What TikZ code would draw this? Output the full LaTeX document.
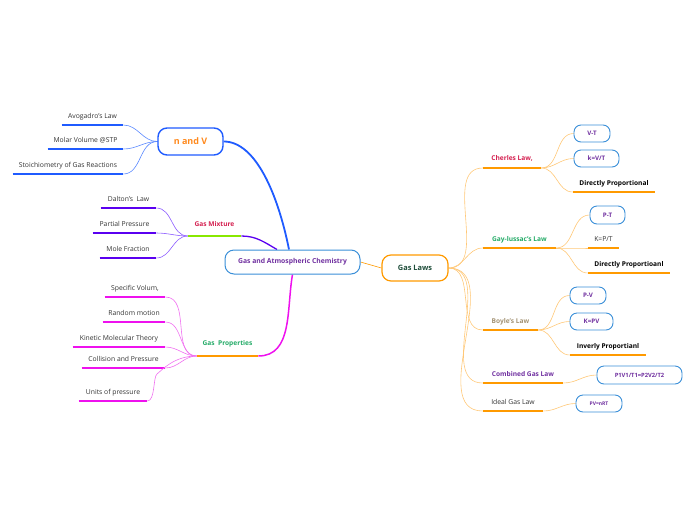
\documentclass[tikz,border=0pt]{standalone}
\usepackage{fontspec}
\setmainfont{Open Sans}
\usetikzlibrary{backgrounds}
\definecolor{nvblue}{HTML}{1F5BFF}
\definecolor{nvlight}{HTML}{5C8AFF}
\definecolor{nvorange}{HTML}{FF8A1E}
\definecolor{mixpurple}{HTML}{5A00F0}
\definecolor{mixlight}{HTML}{8C5CFF}
\definecolor{limegreen}{HTML}{88E800}
\definecolor{magen}{HTML}{EE11EE}
\definecolor{maglight}{HTML}{F070F0}
\definecolor{lawor}{HTML}{FF9A00}
\definecolor{orlight}{HTML}{FFC878}
\definecolor{boxblue}{HTML}{3A8FD8}
\definecolor{boxtxt}{HTML}{7030A0}
\definecolor{glgreen}{HTML}{1E4D3A}
\definecolor{crim}{HTML}{D42050}
\definecolor{leafgreen}{HTML}{22AA66}
\definecolor{tanbrown}{HTML}{A39273}
\definecolor{txtgray}{HTML}{333333}
\tikzset{every picture/.style={>=stealth, semithick}}
\tikzset{topic/.style={draw, rounded corners=9pt, fill=white, inner sep=0pt,
    font=\bfseries\fontsize{6.8}{8}\selectfont}}
\tikzset{formula/.style={draw=boxblue, line width=0.9pt, rounded corners=7pt,
    fill=white, text=boxtxt, inner sep=0pt, minimum height=17pt,
    font=\bfseries\fontsize{6.2}{7}\selectfont}}
\tikzset{leaf/.style={anchor=south, inner xsep=0pt, inner ysep=5pt,
    text depth=1.5pt, text=txtgray, font=\fontsize{6.8}{8}\selectfont}}
\tikzset{subtopic/.style={leaf, font=\bfseries\fontsize{6.6}{8}\selectfont}}
\tikzset{underline/.style={line width=2pt}}
\tikzset{twig/.style={line width=0.6pt}}

\begin{document}
\begin{tikzpicture}[x=1pt, y=1pt]
	\useasboundingbox (0,0) rectangle (696,-520);
	% main topics
	\node[topic, draw=boxblue, line width=1pt, text=boxtxt, minimum width=135pt,
	minimum height=24pt] (cen) at (292.5,-262) {Gas and Atmospheric Chemistry};
	\node[topic, draw=lawor, line width=1.2pt, text=glgreen, minimum width=66pt,
	minimum height=26pt, font=\bfseries\fontsize{7.4}{9}\selectfont] (gl) at (415,-268)
	{Gas Laws};
	\node[topic, draw=nvblue, line width=1.4pt, text=nvorange, minimum width=65pt,
	minimum height=27pt, font=\bfseries\fontsize{9}{11}\selectfont] (nv) at
	(190.5,-141.5) {n and V};
	% n and V
	\node[leaf, minimum width=61pt] (avo) at (92.5,-125) {Avogadro's Law};
	\node[leaf, minimum width=75pt] (mol) at (85.5,-149) {Molar Volume @STP};
	\node[leaf, minimum width=110pt] (sto) at (68,-174) {Stoichiometry of Gas Reactions};
	% mixture
	\node[subtopic, text=crim, minimum width=53pt, inner ysep=8pt] (mix) at
	(214.5,-236) {Gas Mixture};
	\node[leaf, minimum width=55pt] (dal) at (128.5,-208) {Dalton's~ Law};
	\node[leaf, minimum width=63pt] (pp) at (124.5,-233) {Partial Pressure};
	\node[leaf, minimum width=56pt] (mf) at (128,-258) {Mole Fraction};
	% properties
	\node[subtopic, text=leafgreen, minimum width=61pt, inner ysep=9pt] (gp) at
	(227.5,-356) {Gas~ Properties};
	\node[leaf, minimum width=60pt] (sv) at (135,-297) {Specific Volum,};
	\node[leaf, minimum width=62pt] (rm) at (134,-322) {Random motion};
	\node[leaf, minimum width=92pt] (kmt) at (119,-347) {Kinetic Molecular Theory};
	\node[leaf, minimum width=83pt] (cp) at (123.5,-368) {Collision and Pressure};
	\node[leaf, minimum width=68pt] (up) at (113,-401) {Units of pressure};
	% gas laws
	\node[subtopic, text=crim, minimum width=58pt, inner ysep=6pt] (chl) at
	(512,-168) {Cherles Law,};
	\node[subtopic, text=leafgreen, minimum width=73pt] (gay) at (519.5,-248)
	{Gay-lussac's Law};
	\node[subtopic, text=tanbrown, minimum width=55pt] (boy) at (510.5,-330)
	{Boyle's Law};
	\node[subtopic, text=boxtxt, minimum width=80pt] (comb) at (523,-383)
	{Combined Gas Law};
	\node[leaf, minimum width=60pt] (ideal) at (513,-411) {Ideal Gas Law};
	% formulas
	\node[formula, minimum width=36pt] (vt) at (592,-133.5) {V-T};
	\node[formula, minimum width=45pt] (kvt) at (596.5,-158.5) {k=V/T};
	\node[subtopic, text=black, minimum width=82pt] (dp1) at (614,-192)
	{Directly Proportional};
	\node[formula, minimum width=35pt, minimum height=18pt] (pt) at (607.5,-215) {P-T};
	\node[leaf, minimum width=31pt] (kpt) at (603.5,-248) {K=P/T};
	\node[subtopic, text=black, minimum width=82pt] (dp2) at (629,-273)
	{Directly Proportioanl};
	\node[formula, minimum width=36pt] (pv) at (588,-295.5) {P-V};
	\node[formula, minimum width=43pt] (kpv) at (591.5,-321.5) {K=PV};
	\node[subtopic, text=black, minimum width=76pt] (inv) at (608,-355)
	{Inverly Proportianl};
	\node[formula, minimum width=85pt, minimum height=18pt,
	font=\bfseries\fontsize{5.8}{7}\selectfont] (comf) at (639.5,-375) {P1V1/T1=P2V2/T2};
	\node[formula, minimum width=46pt, font=\bfseries\fontsize{5}{6}\selectfont]
	(idf) at (599,-403.5) {PV=nRT};
	\begin{scope}[on background layer]
		% underlines
		\foreach \n in {avo,mol,sto}
			\draw[underline, nvblue] (\n.south west) -- (\n.south east);
		\foreach \n in {dal,pp,mf}
			\draw[underline, mixpurple] (\n.south west) -- (\n.south east);
		\draw[underline, limegreen] (mix.south west) -- (mix.south east);
		\foreach \n in {sv,rm,kmt,cp,up}
			\draw[underline, magen] (\n.south west) -- (\n.south east);
		\foreach \n in {gp,chl,gay,boy,comb,ideal,dp1,kpt,dp2,inv}
			\draw[underline, lawor] (\n.south west) -- (\n.south east);
		% main branches
		\draw[nvblue, line width=1.8pt] ([xshift=-3.5pt]cen.north)
			.. controls +(-11,55) and +(32,0) .. (nv.east);
		\draw[mixpurple, line width=1.3pt] (mix.south east) to[out=0,in=150]
			([xshift=-15.5pt]cen.north);
		\draw[magen, line width=1.5pt] (gp.south east) to[out=0,in=-100] (cen.south);
		\draw[twig, lawor] (cen.east) -- (gl.west);
		% twigs
		\foreach \n in {avo,mol,sto}
			\draw[twig, nvlight] (nv.west) to[out=180,in=0] (\n.south east);
		\foreach \n in {dal,pp,mf}
			\draw[twig, mixlight] (mix.south west) to[out=180,in=0] (\n.south east);
		\foreach \n in {sv,rm,kmt,cp}
			\draw[twig, maglight] (gp.south west) to[out=180,in=0] (\n.south east);
		\draw[twig, maglight] (gp.south west) .. controls +(-22,0) and +(6,5) ..
			(157,-374) .. controls +(-4,-3) and +(8,0) .. (up.south east);
		\foreach \n in {chl,gay,boy,comb,ideal}
			\draw[twig, orlight] (gl.east) to[out=0,in=180] (\n.south west);
		\foreach \n in {vt,kvt}
			\draw[twig, orlight] (chl.south east) to[out=0,in=180] (\n.west);
		\draw[twig, orlight] (chl.south east) to[out=0,in=180] (dp1.south west);
		\draw[twig, orlight] (gay.south east) to[out=0,in=180] (pt.west);
		\foreach \n in {kpt,dp2}
			\draw[twig, orlight] (gay.south east) to[out=0,in=180] (\n.south west);
		\foreach \n in {pv,kpv}
			\draw[twig, orlight] (boy.south east) to[out=0,in=180] (\n.west);
		\draw[twig, orlight] (boy.south east) to[out=0,in=180] (inv.south west);
		\draw[twig, orlight] (comb.south east) to[out=0,in=180] (comf.west);
		\draw[twig, orlight] (ideal.south east) to[out=0,in=180] (idf.west);
	\end{scope}
\end{tikzpicture}
\end{document}
